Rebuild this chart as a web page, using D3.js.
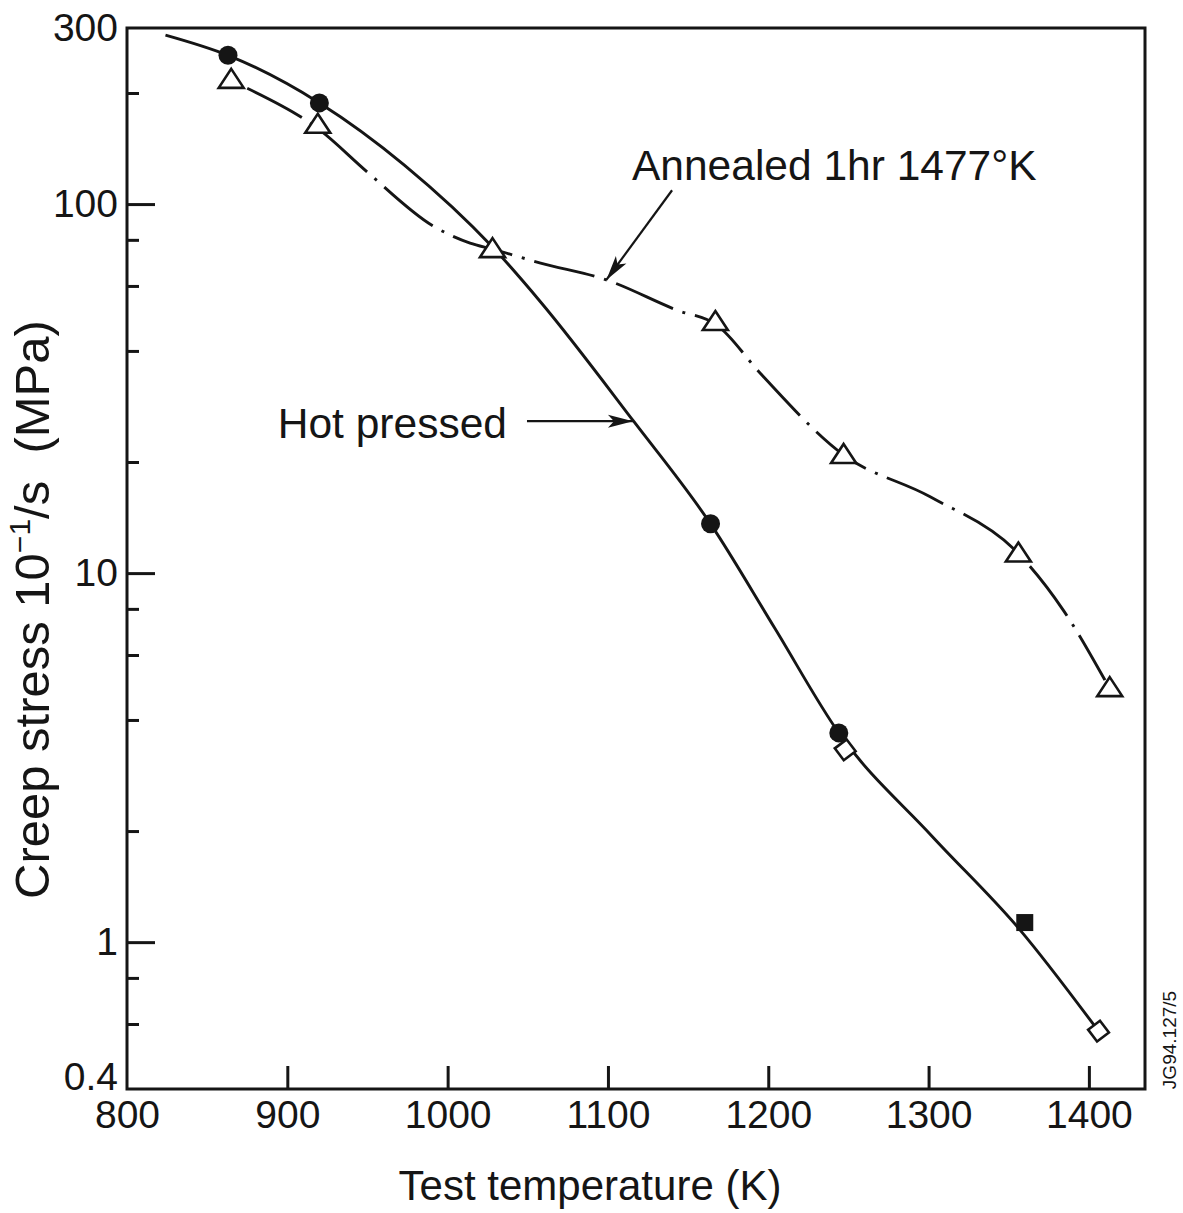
<!DOCTYPE html>
<html>
<head>
<meta charset="utf-8">
<script src="https://d3js.org/d3.v7.min.js"></script>
<style>
	body { margin: 0; background: #fff; }
	text { font-family: "Liberation Sans", Arial, sans-serif; fill: #151515; }
</style>
</head>
<body>
<div class="chart"></div>
<script>
// values (temperature in K, stress in MPa)
var xTicks = [800, 900, 1000, 1100, 1200, 1300, 1400];
var yLabels = [300, 100, 10, 1, 0.4];
var yMinor = [200, 80, 60, 40, 20, 8, 6, 4, 2, 0.8, 0.6];

// hot pressed: filled circles, open diamonds, filled square
var hotCircles = [
	{t: 863, s: 253},
	{t: 920, s: 188},
	{t: 1164, s: 13.6},
	{t: 1244, s: 3.69}
];
var hotDiamonds = [
	{t: 1248, s: 3.32},
	{t: 1406, s: 0.574}
];
var hotSquares = [
	{t: 1360, s: 1.13}
];
// hand drawn fit through the hot pressed points
var hotCurve = [
	{t: 824, s: 287}, {t: 863, s: 253}, {t: 920, s: 188}, {t: 973, s: 127.6},
	{t: 1028, s: 76.5}, {t: 1058, s: 54.3}, {t: 1116, s: 25.8}, {t: 1164, s: 13.6},
	{t: 1204, s: 7.1}, {t: 1244, s: 3.69}, {t: 1302, s: 1.94}, {t: 1357, s: 1.08},
	{t: 1406, s: 0.574}
];

// annealed 1hr 1477 K: open triangles
var annealedPoints = [
	{t: 865, s: 217},
	{t: 919, s: 164},
	{t: 1028, s: 75.5},
	{t: 1167, s: 47.9},
	{t: 1247, s: 20.9},
	{t: 1356, s: 11.3},
	{t: 1413, s: 4.88}
];
var annealedCurve = [
	{t: 875, s: 206}, {t: 920, s: 159}, {t: 950, s: 122}, {t: 991, s: 87.2},
	{t: 1014, s: 78.4}, {t: 1028, s: 75.5}, {t: 1058, s: 69.2}, {t: 1099, s: 62.3},
	{t: 1143, s: 51.6}, {t: 1168, s: 47}, {t: 1195, s: 34.8}, {t: 1247, s: 20.9},
	{t: 1301, s: 16.1}, {t: 1356, s: 11.3}, {t: 1384, s: 7.94}, {t: 1410, s: 5.13}
];

var margin = {top: 28, right: 38, bottom: 124, left: 127}

var width = 1183 - margin.left - margin.right;
var height = 1213 - margin.top - margin.bottom;

var root = d3.select('.chart')
	.append('svg')
		.attr('width', width + margin.left + margin.right)
		.attr('height', height + margin.top + margin.bottom)

root.append('defs')
	.append('marker')
		.attr('id', 'arrow')
		.attr('markerUnits', 'userSpaceOnUse')
		.attr('viewBox', '-26 -8 28 16')
		.attr('refX', 0)
		.attr('refY', 0)
		.attr('markerWidth', 28)
		.attr('markerHeight', 16)
		.attr('orient', 'auto')
	.append('path')
		.attr('d', 'M0,0 L-25,-6.5 L-19,0 L-25,6.5 Z')
		.style('fill', '#151515');

var svg = root.append('g')
	.attr('transform', `translate(${margin.left}, ${margin.top})`)

var xScale = d3.scaleLinear()
	.domain([800, 1435])
	.range([0, width]);

var yScale = d3.scaleLog()
	.domain([0.4, 300])
	.range([height, 0]);

// frame
svg.append('rect')
	.attr('width', width)
	.attr('height', height)
	.style('fill', 'none')
	.style('stroke', '#151515')
	.style('stroke-width', 3)

var xAxis = d3.axisBottom(xScale)
	.tickValues(xTicks)
	.tickFormat(d => d)
	.tickSizeInner(-23)
	.tickSizeOuter(0)
	.tickPadding(11);

var gx = svg.append('g')
	.attr('transform', `translate(0, ${height})`)
	.call(xAxis)
	.attr('font-size', 39)
	.attr('font-family', '"Liberation Sans", Arial, sans-serif');
gx.select('.domain').remove();
gx.selectAll('.tick line').style('stroke', '#151515').style('stroke-width', 3)
	.filter(d => d == 800).remove();

var yAxis = d3.axisLeft(yScale)
	.tickValues(yLabels)
	.tickFormat(d => d)
	.tickSizeInner(-28)
	.tickSizeOuter(0)
	.tickPadding(9);

var gy = svg.append('g')
	.call(yAxis)
	.attr('font-size', 39)
	.attr('font-family', '"Liberation Sans", Arial, sans-serif');
gy.select('.domain').remove();
gy.selectAll('.tick line').style('stroke', '#151515').style('stroke-width', 3)
	.filter(d => d == 300 || d == 0.4).remove();
gy.selectAll('.tick text').filter(d => d == 0.4).attr('dy', '0.01em');

var yMinorAxis = d3.axisLeft(yScale)
	.tickValues(yMinor)
	.tickFormat('')
	.tickSizeInner(-12)
	.tickSizeOuter(0);

var gm = svg.append('g').call(yMinorAxis);
gm.select('.domain').remove();
gm.selectAll('.tick line').style('stroke', '#151515').style('stroke-width', 3);

// curves
var line = d3.line()
	.x(d => xScale(d.t))
	.y(d => yScale(d.s))
	.curve(d3.curveMonotoneX);

svg.append('path')
	.datum(hotCurve)
	.attr('d', line)
	.style('fill', 'none')
	.style('stroke', '#151515')
	.style('stroke-width', 2.9)

svg.append('path')
	.datum(annealedCurve)
	.attr('d', line)
	.style('fill', 'none')
	.style('stroke', '#151515')
	.style('stroke-width', 2.9)
	.style('stroke-dasharray', '62,10,3,10')

// markers
svg.selectAll('.tri')
	.data(annealedPoints)
	.enter()
	.append('path')
	.attr('class', 'tri')
	.attr('transform', d => `translate(${xScale(d.t)}, ${yScale(d.s)})`)
	.attr('d', 'M0,-11 L12.5,8 L-12.5,8 Z')
	.style('fill', '#fff')
	.style('stroke', '#151515')
	.style('stroke-width', 2.6)

svg.selectAll('.dot')
	.data(hotCircles)
	.enter()
	.append('circle')
	.attr('class', 'dot')
	.attr('cx', d => xScale(d.t))
	.attr('cy', d => yScale(d.s))
	.attr('r', 9.5)
	.style('fill', '#151515')

svg.selectAll('.dia')
	.data(hotDiamonds)
	.enter()
	.append('path')
	.attr('class', 'dia')
	.attr('transform', d => `translate(${xScale(d.t)}, ${yScale(d.s)}) rotate(8)`)
	.attr('d', 'M0,-10.5 L10.5,0 L0,10.5 L-10.5,0 Z')
	.style('fill', '#fff')
	.style('stroke', '#151515')
	.style('stroke-width', 2.6)

svg.selectAll('.sq')
	.data(hotSquares)
	.enter()
	.append('rect')
	.attr('class', 'sq')
	.attr('x', d => xScale(d.t) - 8.5)
	.attr('y', d => yScale(d.s) - 8.5)
	.attr('width', 17)
	.attr('height', 17)
	.style('fill', '#151515')

// annotations
svg.append('text')
	.attr('x', xScale(1115))
	.attr('y', yScale(116))
	.attr('font-size', 42.5)
	.text('Annealed 1hr 1477°K');

svg.append('line')
	.attr('x1', xScale(1140))
	.attr('y1', yScale(109))
	.attr('x2', xScale(1099))
	.attr('y2', yScale(62.3))
	.style('stroke', '#151515')
	.style('stroke-width', 2.2)
	.attr('marker-end', 'url(#arrow)')

svg.append('text')
	.attr('x', xScale(1037))
	.attr('y', yScale(23.2))
	.attr('font-size', 42.5)
	.style('text-anchor', 'end')
	.text('Hot pressed');

svg.append('line')
	.attr('x1', xScale(1049.5))
	.attr('y1', yScale(25.8))
	.attr('x2', xScale(1115.6))
	.attr('y2', yScale(25.8))
	.style('stroke', '#151515')
	.style('stroke-width', 2.2)
	.attr('marker-end', 'url(#arrow)')

// axis titles
svg.append('text')
	.attr('x', width / 2 - 46)
	.attr('y', height + 111)
	.attr('font-size', 42)
	.style('text-anchor', 'middle')
	.text('Test temperature (K)');

var yTitle = svg.append('text')
	.attr('transform', `translate(-78, ${height - 190}) rotate(-90)`)
	.attr('font-size', 49)
	.attr('xml:space', 'preserve');
yTitle.append('tspan').text('Creep stress 10');
yTitle.append('tspan').attr('font-size', 30).attr('dy', -19).text('−1');
yTitle.append('tspan').attr('dy', 19).text('/s  (MPa)');

svg.append('text')
	.attr('transform', `translate(${width + 31}, ${height - 49}) rotate(-90)`)
	.attr('font-size', 19)
	.style('text-anchor', 'middle')
	.text('JG94.127/5');
</script>
</body>
</html>
